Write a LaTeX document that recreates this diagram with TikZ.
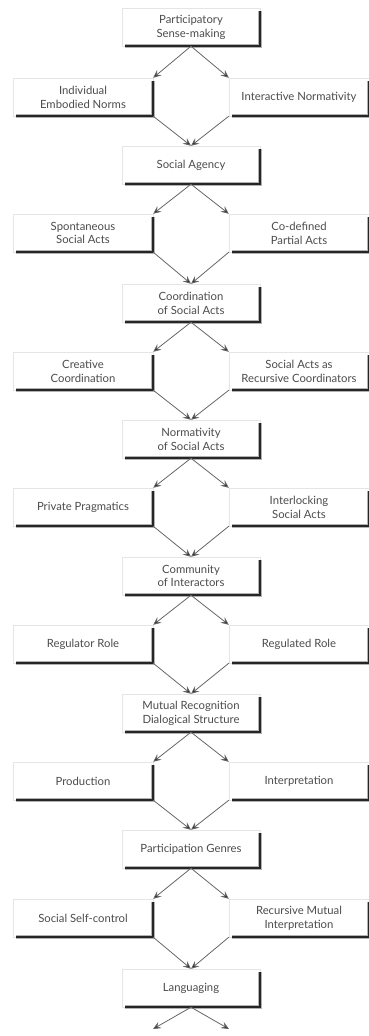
\documentclass[tikz,border=0pt]{standalone}
\usepackage{fontspec}
\setmainfont{Lato}
\usetikzlibrary{arrows.meta}
\begin{document}
\begin{tikzpicture}[x=1pt,y=-1pt,
  box/.style={draw=black!10, line width=0.4pt, fill=white, minimum width=138pt, minimum height=38pt,
    inner sep=2pt, align=center, text=black!70, font=\fontsize{11.3}{13.8}\selectfont},
  sbox/.style={box, minimum width=140pt},
  link/.style={draw=black!60, line width=0.8pt, -{Stealth[length=8pt,width=7pt,inset=3pt,fill=black!85]}},
  shad/.style={draw=black!30, line width=3.8pt},
  shadc/.style={draw=black!85, line width=1.7pt}
]
\useasboundingbox (0,0) rectangle (369,1036);
\def\L{83}\def\C{191}\def\R{299}
\node[box]  (c0)  at (\C,27)   {Participatory\\Sense-making};
\node[sbox] (l1)  at (\L,97)   {Individual\\Embodied Norms};
\node[sbox] (r1)  at (\R,97)   {Interactive Normativity};
\node[box]  (c2)  at (\C,165)  {Social Agency};
\node[sbox] (l3)  at (\L,233)  {Spontaneous\\Social Acts};
\node[sbox] (r3)  at (\R,233)  {Co-defined\\Partial Acts};
\node[box]  (c4)  at (\C,303)  {Coordination\\of Social Acts};
\node[sbox] (l5)  at (\L,371)  {Creative\\Coordination};
\node[sbox] (r5)  at (\R,371)  {Social Acts as\\Recursive Coordinators};
\node[box]  (c6)  at (\C,439)  {Normativity\\of Social Acts};
\node[sbox] (l7)  at (\L,507)  {Private Pragmatics};
\node[sbox] (r7)  at (\R,507)  {Interlocking\\Social Acts};
\node[box]  (c8)  at (\C,576)  {Community\\of Interactors};
\node[sbox] (l9)  at (\L,644)  {Regulator Role};
\node[sbox] (r9)  at (\R,644)  {Regulated Role};
\node[box]  (c10) at (\C,713)  {Mutual Recognition\\Dialogical Structure};
\node[sbox] (l11) at (\L,781)  {Production};
\node[sbox] (r11) at (\R,781)  {Interpretation};
\node[box]  (c12) at (\C,849)  {Participation Genres};
\node[sbox] (l13) at (\L,918)  {Social Self-control};
\node[sbox] (r13) at (\R,918)  {Recursive Mutual\\Interpretation};
\node[box]  (c14) at (\C,988)  {Languaging};
\coordinate (e1) at (153,1029);
\coordinate (e2) at (229,1029);
% shadows
\foreach \n in {c0,l1,r1,c2,l3,r3,c4,l5,r5,c6,l7,r7,c8,l9,r9,c10,l11,r11,c12,l13,r13,c14}{
  \draw[shad] ([xshift=3pt]\n.south west) -- (\n.south east) -- ([yshift=-3pt]\n.north east);
  \draw[shadc] ([xshift=3pt]\n.south west) -- (\n.south east) -- ([yshift=-3pt]\n.north east);
}
% links
\foreach \a/\b/\c/\d in {c0/l1/r1/c2, c2/l3/r3/c4, c4/l5/r5/c6, c6/l7/r7/c8, c8/l9/r9/c10, c10/l11/r11/c12, c12/l13/r13/c14}{
  \draw[link] (\a.south) -- (\b.north east);
  \draw[link] (\a.south) -- (\c.north west);
  \draw[link] (\b.south east) -- (\d.north);
  \draw[link] (\c.south west) -- (\d.north);
}
\draw[link] (c14.south) -- (e1);
\draw[link] (c14.south) -- (e2);
\end{tikzpicture}
\end{document}
